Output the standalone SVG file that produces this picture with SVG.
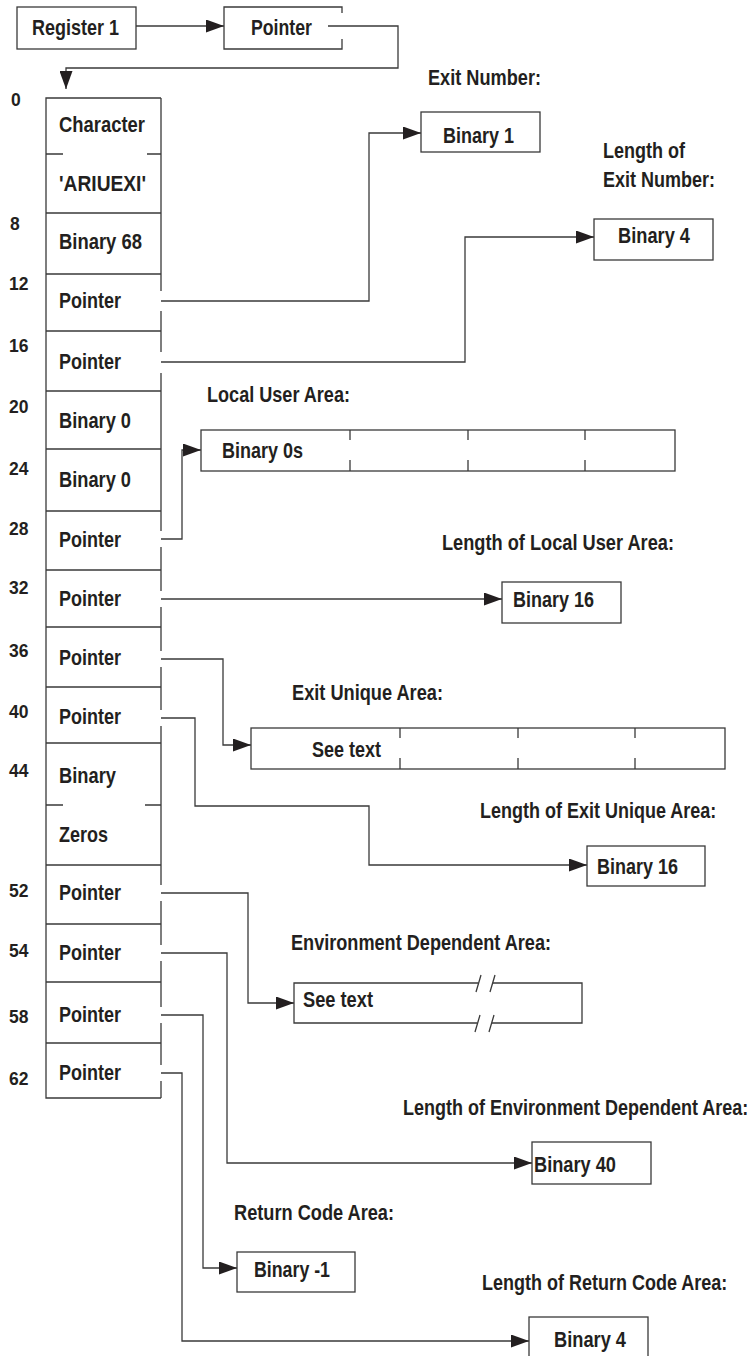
<svg xmlns="http://www.w3.org/2000/svg" width="753" height="1356" viewBox="0 0 753 1356">
<style>
.t{font-family:"Liberation Sans",Arial,Helvetica,sans-serif;font-weight:bold;font-size:22px;fill:#231f20}
.s{font-size:18px}
.n{font-family:"Liberation Sans",Arial,Helvetica,sans-serif;font-weight:bold;font-size:17.5px;fill:#231f20}
.bx{fill:#fff;stroke:#3a3a3a;stroke-width:1.3}
.ln{fill:none;stroke:#3a3a3a;stroke-width:1.3}
.ar{fill:none;stroke:#3a3a3a;stroke-width:1.3;marker-end:url(#ah)}
</style>
<defs>
<marker id="ah" viewBox="0 0 18 13" refX="18" refY="6.5" markerWidth="18" markerHeight="13" orient="auto" markerUnits="userSpaceOnUse">
<path d="M0,0 L18,6.5 L0,13 z" fill="#231f20"/>
</marker>
</defs>
<rect width="753" height="1356" fill="#fff"/>

<g id="connectors">
<path class="ar" d="M136,26 H224"/>
<path class="ar" d="M328,26 H398 V68 H66 V89"/>
<path class="ar" d="M142,301 H369 V133 H421"/>
<path class="ar" d="M142,362 H465 V237 H594"/>
<path class="ar" d="M142,539 H182 V450 H201"/>
<path class="ar" d="M142,599 H502"/>
<path class="ar" d="M142,659 H223 V745 H251"/>
<path class="ar" d="M142,718 H195 V806 H369 V865 H587"/>
<path class="ar" d="M142,893 H248 V1003 H294"/>
<path class="ar" d="M142,953 H227 V1163 H532"/>
<path class="ar" d="M142,1015 H203 V1268 H237"/>
<path class="ar" d="M142,1073 H182 V1341 H529"/>
</g>

<g id="register1">
<rect class="bx" x="17" y="7" width="119" height="42"/>
<text class="t" x="32" y="35" textLength="87" lengthAdjust="spacingAndGlyphs">Register 1</text>
</g>

<g id="pointer-box">
<path class="ln" d="M342,13 V7 H224 V49 H342 V39"/>
<text class="t" x="251" y="35" textLength="61" lengthAdjust="spacingAndGlyphs">Pointer</text>
</g>

<g id="control-block">
<rect x="46" y="98" width="115" height="1000" fill="#fff"/>
<path class="ln" d="M161,98 H46 V1098 H161"/>
<path class="ln" d="M161,98 V291 M161,311 V352 M161,373 V531 M161,547 V591 M161,607 V651 M161,667 V710 M161,726 V885 M161,901 V945 M161,961 V1007 M161,1023 V1065 M161,1081 V1098"/>
<path class="ln" d="M46,213 H161 M46,274 H161 M46,331 H161 M46,391 H161 M46,449 H161 M46,511 H161 M46,570 H161 M46,627 H161 M46,687 H161 M46,743 H161 M46,865 H161 M46,924 H161 M46,982 H161 M46,1043 H161"/>
<path class="ln" d="M46,154 H63 M147,154 H161 M46,805 H63 M145,805 H161"/>
<text class="t" x="59" y="132" textLength="86" lengthAdjust="spacingAndGlyphs">Character</text>
<text class="t" x="59" y="191" textLength="87" lengthAdjust="spacingAndGlyphs">'ARIUEXI'</text>
<text class="t" x="59" y="249" textLength="83" lengthAdjust="spacingAndGlyphs">Binary 68</text>
<text class="t" x="59" y="308" textLength="62" lengthAdjust="spacingAndGlyphs">Pointer</text>
<text class="t" x="59" y="369" textLength="62" lengthAdjust="spacingAndGlyphs">Pointer</text>
<text class="t" x="59" y="428" textLength="72" lengthAdjust="spacingAndGlyphs">Binary 0</text>
<text class="t" x="59" y="487" textLength="72" lengthAdjust="spacingAndGlyphs">Binary 0</text>
<text class="t" x="59" y="547" textLength="62" lengthAdjust="spacingAndGlyphs">Pointer</text>
<text class="t" x="59" y="606" textLength="62" lengthAdjust="spacingAndGlyphs">Pointer</text>
<text class="t" x="59" y="665" textLength="62" lengthAdjust="spacingAndGlyphs">Pointer</text>
<text class="t" x="59" y="724" textLength="62" lengthAdjust="spacingAndGlyphs">Pointer</text>
<text class="t" x="59" y="783" textLength="57" lengthAdjust="spacingAndGlyphs">Binary</text>
<text class="t" x="59" y="842" textLength="49" lengthAdjust="spacingAndGlyphs">Zeros</text>
<text class="t" x="59" y="900" textLength="62" lengthAdjust="spacingAndGlyphs">Pointer</text>
<text class="t" x="59" y="960" textLength="62" lengthAdjust="spacingAndGlyphs">Pointer</text>
<text class="t" x="59" y="1022" textLength="62" lengthAdjust="spacingAndGlyphs">Pointer</text>
<text class="t" x="59" y="1080" textLength="62" lengthAdjust="spacingAndGlyphs">Pointer</text>
<text class="n" x="11" y="106">0</text>
<text class="n" x="10" y="230">8</text>
<text class="n" x="9" y="290">12</text>
<text class="n" x="9" y="352">16</text>
<text class="n" x="9" y="413">20</text>
<text class="n" x="9" y="475">24</text>
<text class="n" x="9" y="535">28</text>
<text class="n" x="9" y="594">32</text>
<text class="n" x="9" y="657">36</text>
<text class="n" x="9" y="718">40</text>
<text class="n" x="9" y="777">44</text>
<text class="n" x="9" y="897">52</text>
<text class="n" x="9" y="957">54</text>
<text class="n" x="9" y="1023">58</text>
<text class="n" x="9" y="1085">62</text>
</g>

<g id="exit-number">
<text class="t" x="428" y="85" textLength="113" lengthAdjust="spacingAndGlyphs">Exit Number:</text>
<rect class="bx" x="421" y="112" width="119" height="40"/>
<text class="t" x="443" y="143" textLength="71" lengthAdjust="spacingAndGlyphs">Binary 1</text>
</g>

<g id="exit-number-length">
<text class="t" x="603" y="158" textLength="82" lengthAdjust="spacingAndGlyphs">Length of</text>
<text class="t" x="603" y="187" textLength="112" lengthAdjust="spacingAndGlyphs">Exit Number:</text>
<rect class="bx" x="594" y="219" width="119" height="41"/>
<text class="t" x="618" y="243" textLength="72" lengthAdjust="spacingAndGlyphs">Binary 4</text>
</g>

<g id="local-user-area">
<text class="t" x="207" y="402" textLength="143" lengthAdjust="spacingAndGlyphs">Local User Area:</text>
<rect class="bx" x="201" y="430" width="474" height="41"/>
<path class="ln" d="M350,430 V440 M350,460 V471 M468,430 V440 M468,460 V471 M585,430 V440 M585,460 V471"/>
<text class="t" x="222" y="458" textLength="81" lengthAdjust="spacingAndGlyphs">Binary 0s</text>
</g>

<g id="local-user-area-length">
<text class="t" x="442" y="550" textLength="232" lengthAdjust="spacingAndGlyphs">Length of Local User Area:</text>
<rect class="bx" x="502" y="582" width="119" height="41"/>
<text class="t" x="513" y="607" textLength="81" lengthAdjust="spacingAndGlyphs">Binary 16</text>
</g>

<g id="exit-unique-area">
<text class="t" x="292" y="700" textLength="151" lengthAdjust="spacingAndGlyphs">Exit Unique Area:</text>
<rect class="bx" x="251" y="728" width="474" height="41"/>
<path class="ln" d="M400,728 V738 M400,758 V769 M518,728 V738 M518,758 V769 M635,728 V738 M635,758 V769"/>
<text class="t" x="312" y="757" textLength="69" lengthAdjust="spacingAndGlyphs">See text</text>
</g>

<g id="exit-unique-area-length">
<text class="t s" transform="translate(480,818) scale(1,1.2)">Length of Exit Unique Area:</text>
<rect class="bx" x="587" y="846" width="118" height="40"/>
<text class="t" x="597" y="874" textLength="81" lengthAdjust="spacingAndGlyphs">Binary 16</text>
</g>

<g id="environment-dependent-area">
<text class="t" x="291" y="950" textLength="260" lengthAdjust="spacingAndGlyphs">Environment Dependent Area:</text>
<rect x="294" y="983" width="288" height="40" fill="#fff"/>
<path class="ln" d="M478,983 H294 V1023 H477 M492,1023 H582 V983 H493"/>
<path class="ln" d="M476,992 L481,975 M490,992 L495,975 M475,1032 L480,1015 M489,1032 L494,1015"/>
<text class="t" x="303" y="1007" textLength="70" lengthAdjust="spacingAndGlyphs">See text</text>
</g>

<g id="environment-dependent-area-length">
<text class="t s" transform="translate(403,1115) scale(1,1.2)">Length of Environment Dependent Area:</text>
<rect class="bx" x="532" y="1142" width="119" height="42"/>
<text class="t" x="534" y="1172" textLength="82" lengthAdjust="spacingAndGlyphs">Binary 40</text>
</g>

<g id="return-code-area">
<text class="t" x="234" y="1220" textLength="160" lengthAdjust="spacingAndGlyphs">Return Code Area:</text>
<rect class="bx" x="237" y="1252" width="118" height="40"/>
<text class="t" x="254" y="1277" textLength="76" lengthAdjust="spacingAndGlyphs">Binary -1</text>
</g>

<g id="return-code-area-length">
<text class="t s" transform="translate(482,1290) scale(1,1.2)">Length of Return Code Area:</text>
<rect class="bx" x="529" y="1317" width="119" height="45"/>
<text class="t" x="554" y="1347" textLength="72" lengthAdjust="spacingAndGlyphs">Binary 4</text>
</g>
</svg>
